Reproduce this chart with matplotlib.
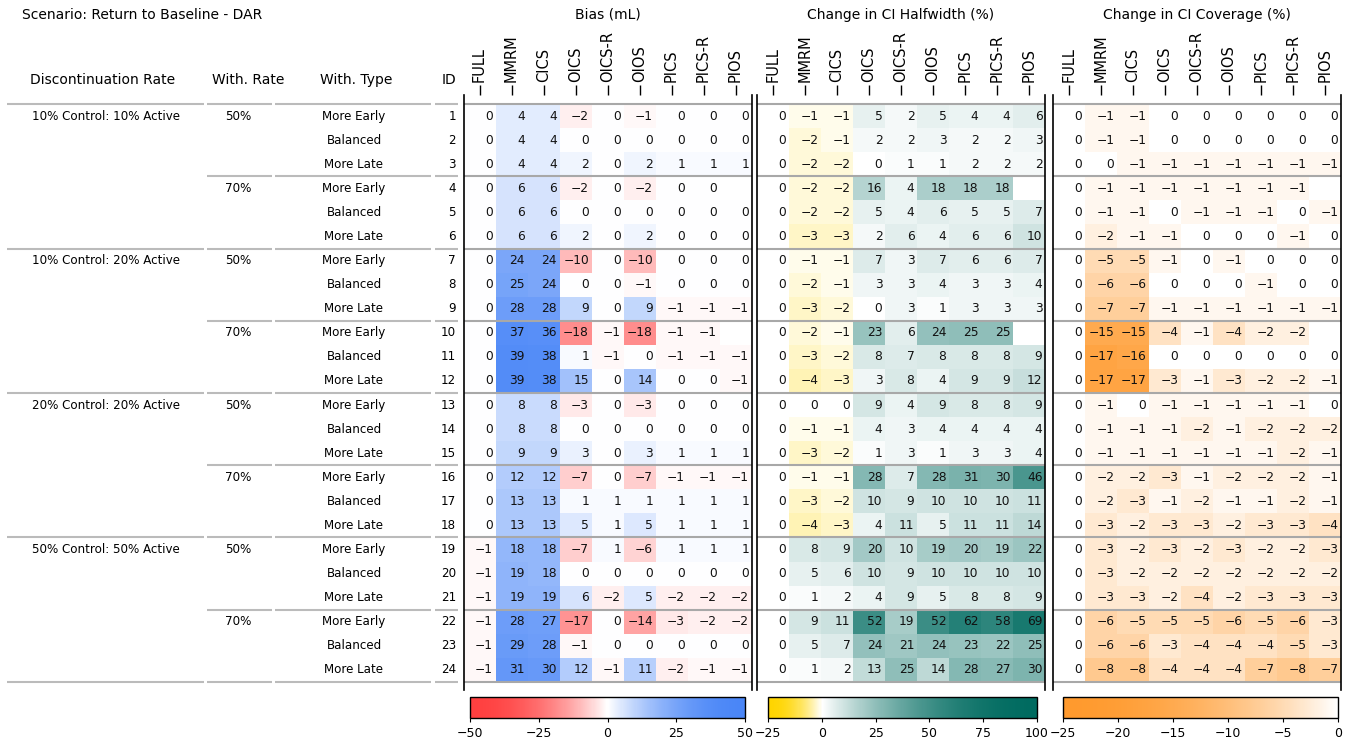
import numpy as np
import matplotlib
matplotlib.use("Agg")
import matplotlib.pyplot as plt
from matplotlib.colors import ListedColormap, Normalize, to_rgb
import matplotlib.cm as cm

# ---- data -------------------------------------------------------------
disc_rates = ["10% Control: 10% Active", "10% Control: 20% Active",
              "20% Control: 20% Active", "50% Control: 50% Active"]
with_rates = ["50%", "70%"]
with_types = ["More Early", "Balanced", "More Late"]
methods = ["FULL", "MMRM", "CICS", "OICS", "OICS-R", "OIOS", "PICS", "PICS-R", "PIOS"]
nan = np.nan

bias = [
    [0, 4, 4, -2, 0, -1, 0, 0, 0],
    [0, 4, 4, 0, 0, 0, 0, 0, 0],
    [0, 4, 4, 2, 0, 2, 1, 1, 1],
    [0, 6, 6, -2, 0, -2, 0, 0, nan],
    [0, 6, 6, 0, 0, 0, 0, 0, 0],
    [0, 6, 6, 2, 0, 2, 0, 0, 0],
    [0, 24, 24, -10, 0, -10, 0, 0, 0],
    [0, 25, 24, 0, 0, -1, 0, 0, 0],
    [0, 28, 28, 9, 0, 9, -1, -1, -1],
    [0, 37, 36, -18, -1, -18, -1, -1, nan],
    [0, 39, 38, 1, -1, 0, -1, -1, -1],
    [0, 39, 38, 15, 0, 14, 0, 0, -1],
    [0, 8, 8, -3, 0, -3, 0, 0, 0],
    [0, 8, 8, 0, 0, 0, 0, 0, 0],
    [0, 9, 9, 3, 0, 3, 1, 1, 1],
    [0, 12, 12, -7, 0, -7, -1, -1, -1],
    [0, 13, 13, 1, 1, 1, 1, 1, 1],
    [0, 13, 13, 5, 1, 5, 1, 1, 1],
    [-1, 18, 18, -7, 1, -6, 1, 1, 1],
    [-1, 19, 18, 0, 0, 0, 0, 0, 0],
    [-1, 19, 19, 6, -2, 5, -2, -2, -2],
    [-1, 28, 27, -17, 0, -14, -3, -2, -2],
    [-1, 29, 28, -1, 0, 0, 0, 0, 0],
    [-1, 31, 30, 12, -1, 11, -2, -1, -1],
]

halfwidth = [
    [0, -1, -1, 5, 2, 5, 4, 4, 6],
    [0, -2, -1, 2, 2, 3, 2, 2, 3],
    [0, -2, -2, 0, 1, 1, 2, 2, 2],
    [0, -2, -2, 16, 4, 18, 18, 18, nan],
    [0, -2, -2, 5, 4, 6, 5, 5, 7],
    [0, -3, -3, 2, 6, 4, 6, 6, 10],
    [0, -1, -1, 7, 3, 7, 6, 6, 7],
    [0, -2, -1, 3, 3, 4, 3, 3, 4],
    [0, -3, -2, 0, 3, 1, 3, 3, 3],
    [0, -2, -1, 23, 6, 24, 25, 25, nan],
    [0, -3, -2, 8, 7, 8, 8, 8, 9],
    [0, -4, -3, 3, 8, 4, 9, 9, 12],
    [0, 0, 0, 9, 4, 9, 8, 8, 9],
    [0, -1, -1, 4, 3, 4, 4, 4, 4],
    [0, -3, -2, 1, 3, 1, 3, 3, 4],
    [0, -1, -1, 28, 7, 28, 31, 30, 46],
    [0, -3, -2, 10, 9, 10, 10, 10, 11],
    [0, -4, -3, 4, 11, 5, 11, 11, 14],
    [0, 8, 9, 20, 10, 19, 20, 19, 22],
    [0, 5, 6, 10, 9, 10, 10, 10, 10],
    [0, 1, 2, 4, 9, 5, 8, 8, 9],
    [0, 9, 11, 52, 19, 52, 62, 58, 69],
    [0, 5, 7, 24, 21, 24, 23, 22, 25],
    [0, 1, 2, 13, 25, 14, 28, 27, 30],
]

coverage = [
    [0, -1, -1, 0, 0, 0, 0, 0, 0],
    [0, -1, -1, 0, 0, 0, 0, 0, 0],
    [0, 0, -1, -1, -1, -1, -1, -1, -1],
    [0, -1, -1, -1, -1, -1, -1, -1, nan],
    [0, -1, -1, 0, -1, -1, -1, 0, -1],
    [0, -2, -1, -1, 0, 0, 0, -1, 0],
    [0, -5, -5, -1, 0, -1, 0, 0, 0],
    [0, -6, -6, 0, 0, 0, -1, 0, 0],
    [0, -7, -7, -1, -1, -1, -1, -1, -1],
    [0, -15, -15, -4, -1, -4, -2, -2, nan],
    [0, -17, -16, 0, 0, 0, 0, 0, 0],
    [0, -17, -17, -3, -1, -3, -2, -2, -1],
    [0, -1, 0, -1, -1, -1, -1, -1, 0],
    [0, -1, -1, -1, -2, -1, -2, -2, -2],
    [0, -1, -1, -1, -1, -1, -1, -2, -1],
    [0, -2, -2, -3, -1, -2, -2, -2, -1],
    [0, -2, -3, -1, -2, -1, -1, -2, -1],
    [0, -3, -2, -3, -3, -2, -3, -3, -4],
    [0, -3, -2, -3, -2, -3, -2, -2, -3],
    [0, -3, -2, -2, -2, -2, -2, -2, -2],
    [0, -3, -3, -2, -4, -2, -3, -3, -3],
    [0, -6, -5, -5, -5, -6, -5, -6, -3],
    [0, -6, -6, -3, -4, -4, -4, -5, -3],
    [0, -8, -8, -4, -4, -4, -7, -8, -7],
]

panel_titles = ["Bias (mL)", "Change in CI Halfwidth (%)", "Change in CI Coverage (%)"]
ranges = [(-50, 50), (-25, 100), (-25, 0)]
cbar_ticks = [[-50, -25, 0, 25, 50], [-25, 0, 25, 50, 75, 100], [-25, -20, -15, -10, -5, 0]]


def white_centred_cmap(low, high, mid, n=256):
    # colour fades from white at `mid` to the end colours (ease-out ramp)
    low, high, white = np.array(to_rgb(low)), np.array(to_rgb(high)), np.ones(3)
    cols = []
    for p in np.linspace(0, 1, n):
        if p < mid:
            t = (mid - p) / mid
            end = low
        else:
            t = (p - mid) / (1 - mid) if mid < 1 else 0
            end = high
        f = 1 - (1 - t) ** 2
        cols.append(white + (end - white) * f)
    return ListedColormap(np.clip(cols, 0, 1))


cmaps = [
    white_centred_cmap("#ff4040", "#4a86f7", 0.5),
    white_centred_cmap("#ffd500", "#006b60", 0.2),
    white_centred_cmap("#ff9a2e", "#ffffff", 1.0),
]

# ---- layout (pixel based) --------------------------------------------
W, H = 1347, 739
fig = plt.figure(figsize=(W / 100, H / 100), dpi=100)


def fx(px):
    return px / W


def fy(py):
    return 1 - py / H


row_h = 24.08
ax_top, ax_bot = 95, 690
ylim = (23.5 + (ax_bot - 682) / row_h, -0.5 - (104 - ax_top) / row_h)
n_rows = len(bias)
group_lines = [-0.5, 5.5, 11.5, 17.5, 23.5]
sub_lines = [2.5, 8.5, 14.5, 20.5]
line_col = "#a8a8a8"
fs_row = 8.6

fig.text(fx(22), fy(15), "Scenario: Return to Baseline - DAR", ha="left", va="center", fontsize=10)

# left table
axt = fig.add_axes([0, fy(ax_bot), fx(463), (ax_bot - ax_top) / H])
axt.set_xlim(0, 463)
axt.set_ylim(*ylim)
axt.axis("off")
hy = -1.5
axt.text(103, hy, "Discontinuation Rate", ha="center", va="center", fontsize=10)
axt.text(248, hy, "With. Rate", ha="center", va="center", fontsize=10)
axt.text(356, hy, "With. Type", ha="center", va="center", fontsize=10)
axt.text(456, hy, "ID", ha="right", va="center", fontsize=10)

segs = [(7, 204), (207, 272), (275, 431), (435, 458)]
for b in group_lines:
    for x0, x1 in segs:
        axt.plot([x0, x1], [b, b], color="#bbbbbb", lw=1.5, solid_capstyle="butt")
for b in sub_lines:
    for x0, x1 in segs[1:]:
        axt.plot([x0, x1], [b, b], color="#bbbbbb", lw=1.5, solid_capstyle="butt")

r = 0
for d in disc_rates:
    for k, wr in enumerate(with_rates):
        for m, wt in enumerate(with_types):
            if k == 0 and m == 0:
                axt.text(106, r, d, ha="center", va="center", fontsize=fs_row)
            if m == 0:
                axt.text(238, r, wr, ha="center", va="center", fontsize=fs_row)
            axt.text(354, r, wt, ha="center", va="center", fontsize=fs_row)
            axt.text(456, r, str(r + 1), ha="right", va="center", fontsize=fs_row)
            r += 1

# heatmap panels
panels_x = [(463.5, 751.5), (757, 1045), (1053, 1341)]
cbars_x = [(470, 745), (768, 1037), (1063, 1338)]
datasets = [bias, halfwidth, coverage]

for i, data in enumerate(datasets):
    arr = np.array(data, dtype=float)
    x0, x1 = panels_x[i]
    ax = fig.add_axes([fx(x0), fy(ax_bot), (x1 - x0) / W, (ax_bot - ax_top) / H])
    norm = Normalize(*ranges[i])
    ax.pcolormesh(np.arange(10) - 0.5, np.arange(n_rows + 1) - 0.5,
                  np.ma.masked_invalid(arr), cmap=cmaps[i], norm=norm)
    ax.set_xlim(-0.5, 8.5)
    ax.set_ylim(*ylim)
    ax.xaxis.tick_top()
    ax.set_xticks(range(len(methods)))
    ax.set_xticklabels(methods, rotation=90, fontsize=10.5)
    ax.tick_params(axis="x", length=7, width=1, pad=2)
    ax.set_yticks([])
    ax.spines["top"].set_visible(False)
    ax.spines["bottom"].set_visible(False)
    for s in ("left", "right"):
        ax.spines[s].set_linewidth(1.2)
    for b in group_lines + sub_lines:
        ax.axhline(b, color=line_col, lw=1.5)
    for rr in range(n_rows):
        for cc in range(len(methods)):
            v = arr[rr, cc]
            if np.isnan(v):
                continue
            ax.text(cc + 0.42, rr, f"{v:.0f}".replace("-", "\u2212"),
                    ha="right", va="center", fontsize=8.8, color="#111111")
    fig.text(fx((x0 + x1) / 2), fy(15), panel_titles[i], ha="center", va="center", fontsize=10)

    c0, c1 = cbars_x[i]
    cax = fig.add_axes([fx(c0), fy(718), (c1 - c0) / W, 21 / H])
    cb = fig.colorbar(cm.ScalarMappable(norm=norm, cmap=cmaps[i]), cax=cax,
                      orientation="horizontal", ticks=cbar_ticks[i])
    cb.ax.tick_params(labelsize=9, length=3)
    cb.outline.set_linewidth(1)

fig.savefig("out.png", dpi=100)
